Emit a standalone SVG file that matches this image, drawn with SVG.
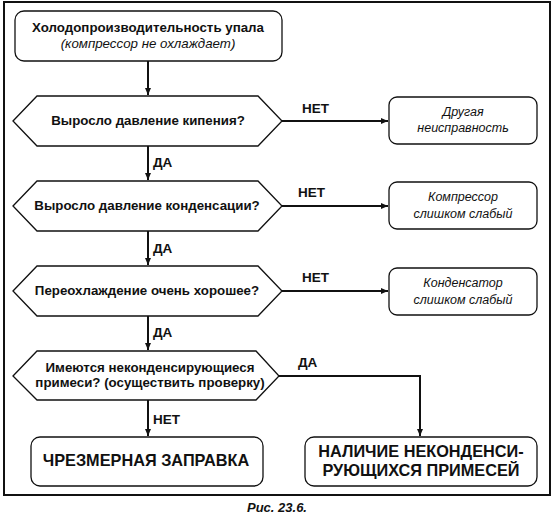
<svg xmlns="http://www.w3.org/2000/svg" width="555" height="521" viewBox="0 0 555 521">
<style>
  text { font-family: "Liberation Sans", Arial, sans-serif; fill: #111; }
  .b { font-weight: bold; font-size: 13.3px; }
  .i { font-style: italic; font-size: 13.3px; }
  .ri { font-style: italic; font-size: 12.5px; }
  .lbl { font-weight: bold; font-size: 13.5px; }
  .big { font-weight: bold; font-size: 16.3px; }
  .cap { font-weight: bold; font-style: italic; font-size: 13px; }
  .box { fill: #fff; stroke: #111; stroke-width: 1.3; }
  .conn { fill: none; stroke: #111; stroke-width: 2; }
</style>
<defs>
  <marker id="ah" markerWidth="8" markerHeight="8" refX="7" refY="4" orient="auto" markerUnits="userSpaceOnUse">
    <path d="M0,1 L7,4 L0,7 Z" fill="#111"/>
  </marker>
</defs>
<rect x="0" y="0" width="555" height="521" fill="#fff"/>
<rect x="4" y="2" width="546" height="493" fill="none" stroke="#111" stroke-width="2"/>

<g id="connectors">
  <path class="conn" d="M148,61 V95" marker-end="url(#ah)"/>
  <path class="conn" d="M148,146 V180" marker-end="url(#ah)"/>
  <path class="conn" d="M148,231 V265" marker-end="url(#ah)"/>
  <path class="conn" d="M148,316 V350" marker-end="url(#ah)"/>
  <path class="conn" d="M148,400 V436" marker-end="url(#ah)"/>
  <path class="conn" d="M282,121 H388" marker-end="url(#ah)"/>
  <path class="conn" d="M282,206 H388" marker-end="url(#ah)"/>
  <path class="conn" d="M282,291 H388" marker-end="url(#ah)"/>
  <path class="conn" d="M279,376 H420 V436" marker-end="url(#ah)"/>
  <text class="lbl" x="153" y="167">ДА</text>
  <text class="lbl" x="153" y="253">ДА</text>
  <text class="lbl" x="153" y="337">ДА</text>
  <text class="lbl" x="153" y="424">НЕТ</text>
  <text class="lbl" x="302" y="113">НЕТ</text>
  <text class="lbl" x="298" y="197">НЕТ</text>
  <text class="lbl" x="302" y="282">НЕТ</text>
  <text class="lbl" x="298" y="367">ДА</text>
</g>

<g id="start">
  <rect class="box" x="15" y="11" width="267" height="50" rx="9"/>
  <text class="b" x="148" y="32" text-anchor="middle">Холодопроизводительность упала</text>
  <text class="i" x="148" y="48" text-anchor="middle">(компрессор не охлаждает)</text>
</g>

<g id="q1">
  <polygon class="box" points="13,121 37,96 258,96 282,121 258,146 37,146"/>
  <text class="b" x="148" y="125" text-anchor="middle">Выросло давление кипения?</text>
</g>
<g id="q2">
  <polygon class="box" points="13,206 37,181 258,181 282,206 258,231 37,231"/>
  <text class="b" x="147" y="210" text-anchor="middle">Выросло давление конденсации?</text>
</g>
<g id="q3">
  <polygon class="box" points="13,291 37,266 258,266 282,291 258,316 37,316"/>
  <text class="b" x="147" y="295" text-anchor="middle">Переохлаждение очень хорошее?</text>
</g>
<g id="q4">
  <polygon class="box" points="13,376 37,351 256,351 279,376 256,400 37,400"/>
  <text class="b" x="150" y="372" text-anchor="middle">Имеются неконденсирующиеся</text>
  <text class="b" x="150" y="387" text-anchor="middle">примеси? (осуществить проверку)</text>
</g>

<g id="r1">
  <rect class="box" x="389" y="97" width="148" height="47" rx="8"/>
  <text class="ri" x="463" y="116" text-anchor="middle">Другая</text>
  <text class="ri" x="463" y="132" text-anchor="middle">неисправность</text>
</g>
<g id="r2">
  <rect class="box" x="389" y="182" width="148" height="47" rx="8"/>
  <text class="ri" x="463" y="201" text-anchor="middle">Компрессор</text>
  <text class="ri" x="463" y="218" text-anchor="middle">слишком слабый</text>
</g>
<g id="r3">
  <rect class="box" x="389" y="268" width="148" height="47" rx="8"/>
  <text class="ri" x="463" y="287" text-anchor="middle">Конденсатор</text>
  <text class="ri" x="463" y="304" text-anchor="middle">слишком слабый</text>
</g>

<g id="end1">
  <rect class="box" x="31" y="437" width="232" height="49" rx="9"/>
  <text class="big" x="146" y="466" text-anchor="middle">ЧРЕЗМЕРНАЯ ЗАПРАВКА</text>
</g>
<g id="end2">
  <rect class="box" x="305" y="437" width="232" height="49" rx="9"/>
  <text class="big" x="421" y="457" text-anchor="middle">НАЛИЧИЕ НЕКОНДЕНСИ-</text>
  <text class="big" x="421" y="476" text-anchor="middle">РУЮЩИХСЯ ПРИМЕСЕЙ</text>
</g>

<text class="cap" x="277" y="512" text-anchor="middle">Рис. 23.6.</text>
</svg>
